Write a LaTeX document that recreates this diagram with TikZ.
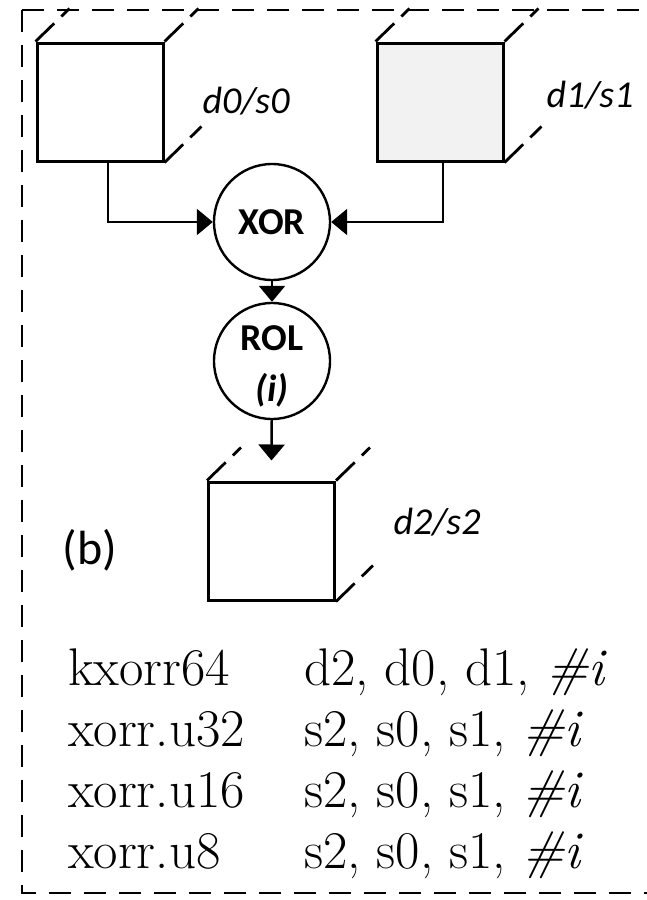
\documentclass[tikz,border=0pt]{standalone}
\usepackage{fontspec}
\usepackage{tikz}
\usetikzlibrary{arrows.meta}
\newfontfamily\carlito{Carlito}

\begin{document}
\begin{tikzpicture}[
    x=1pt, y=-1pt,
    >={Triangle[length=16pt,width=26pt]},
    reg/.style={
        draw,
        line width=3pt,
        minimum width=126pt,
        minimum height=118pt,
        inner sep=0pt
    },
    depth/.style={
        line width=2.8pt,
        dash pattern=on 26pt off 10pt
    },
    opnode/.style={
        draw,
        circle,
        line width=2.4pt,
        minimum size=116pt,
        inner sep=0pt
    },
    optext/.style={
        align=center,
        inner sep=0pt,
        font=\carlito\fontsize{38}{44}\selectfont\bfseries
    },
    reglabel/.style={
        font=\carlito\fontsize{38}{44}\selectfont\itshape
    },
    insn/.style={
        anchor=base west,
        inner sep=0pt,
        font=\fontsize{53}{61}\selectfont
    },
    frame/.style={
        line width=2.8pt,
        dash pattern=on 22pt off 13pt
    },
    arrow/.style={
        ->,
        line width=2.4pt
    }
]
\useasboundingbox (0,0) rectangle (646,900);

% Dashed outline, running off the right edge
\coordinate (ftr) at (720,10);
\coordinate (fbr) at (720,893);
\draw[frame] (22,10) -- (ftr);
\draw[frame] (22,10) -- (22,893) -- (fbr);

% Source and destination registers
\node[reg] (d0) at (100,102) {};
\node[reg, fill=black!5] (d1) at (440,102) {};
\node[reg] (d2) at (271.5,541) {};

% Hidden depth edges
\draw[depth] (d0.north west) -- ++(34,-33);
\draw[depth] (d0.north east) -- ++(34,-33);
\draw[depth] (d0.south east) -- ++(37,-36);
\draw[depth] (d1.north west) -- ++(34,-33);
\draw[depth] (d1.north east) -- ++(34,-33);
\draw[depth] (d1.south east) -- ++(37,-36);
\draw[depth] (d2.north west) -- ++(34,-33);
\draw[depth] (d2.north east) -- ++(34,-33);
\draw[depth] (d2.south east) -- ++(37,-36);

% Register names
\node[reglabel] (l0) at (246,101) {d0/s0};
\node[reglabel] (l1) at (590,95) {d1/s1};
\node[reglabel] (l2) at (437,522) {d2/s2};

% Operations
\node[opnode] (xor) at (272,222) {};
\node[optext] (xort) at (xor) {XOR};
\node[opnode] (rol) at (272,361) {};
\node[optext] (rolt) at ([yshift=-5pt]rol.center) {ROL\\[7pt]\textit{(i)}};

% Data flow
\draw[arrow] ([xshift=8pt]d0.south) |- (xor.west);
\draw[arrow] ([xshift=3pt]d1.south) |- (xor.east);
\draw[arrow] (xor) -- (rol);
\draw[arrow] (rol) -- ([yshift=20pt]d2.north);

\node[font=\carlito\fontsize{48}{56}\selectfont] (tag) at (90,550) {(b)};

% Instruction forms
\node[insn] (i1) at (68,685) {\makebox[236pt][l]{kxorr64}d2, d0, d1, \textit{\#i}};
\node[insn] (i2) at (68,746) {\makebox[236pt][l]{xorr.u32}s2, s0, s1, \textit{\#i}};
\node[insn] (i3) at (68,807) {\makebox[236pt][l]{xorr.u16}s2, s0, s1, \textit{\#i}};
\node[insn] (i4) at (68,868) {\makebox[236pt][l]{xorr.u8}s2, s0, s1, \textit{\#i}};
\end{tikzpicture}
\end{document}
